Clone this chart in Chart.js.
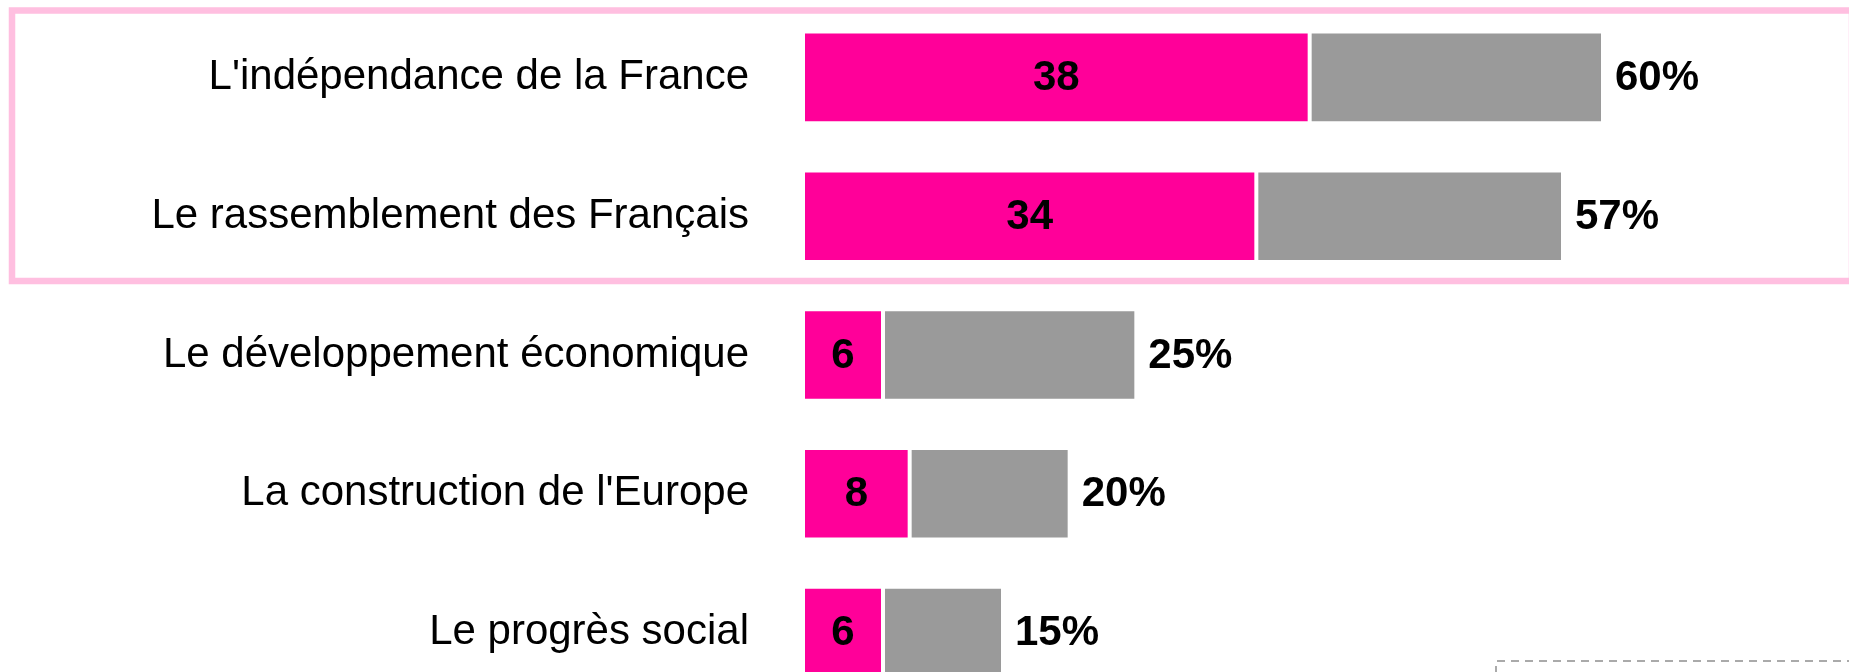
<!DOCTYPE html>
<html>
<head>
<meta charset="utf-8">
<script src="https://cdn.jsdelivr.net/npm/chart.js@4"></script>
<style>
  html, body { margin: 0; padding: 0; background: #fff; overflow: hidden; }
  #wrap { width: 1849px; height: 702px; position: relative; }
</style>
</head>
<body>
<div id="wrap"><canvas id="valuesChart"></canvas></div>
<script>
const categories = [
    "L'indépendance de la France",
    'Le rassemblement des Français',
    'Le développement économique',
    "La construction de l'Europe",
    'Le progrès social'
];
const firstMention = [38, 34, 6, 8, 6];
const totalMention = [60, 57, 25, 20, 15];
const restMention = totalMention.map((t, i) => t - firstMention[i]);

const PINK = '#FF0099';
const GREY = '#9A9A9A';
const FONT = '"Liberation Sans", Arial, sans-serif';

// labels inside the pink bars and the totals at the end of each row
const valueLabels = {
    id: 'valueLabels',
    afterDatasetsDraw(chart) {
        const ctx = chart.ctx;
        const pinkMeta = chart.getDatasetMeta(0);
        const greyMeta = chart.getDatasetMeta(1);
        ctx.save();
        ctx.fillStyle = '#000';
        ctx.font = 'bold 42px ' + FONT;
        ctx.textBaseline = 'middle';
        pinkMeta.data.forEach((bar, i) => {
            ctx.textAlign = 'center';
            ctx.fillText(String(firstMention[i]), (bar.x + bar.base) / 2, bar.y + 1);
        });
        greyMeta.data.forEach((bar, i) => {
            ctx.textAlign = 'left';
            ctx.fillText(totalMention[i] + '%', bar.x + 12, bar.y + 1);
        });
        ctx.restore();
    }
};

// pink frame round the first two rows and the dashed box at the bottom right
const frames = {
    id: 'frames',
    afterDraw(chart) {
        const ctx = chart.ctx;
        ctx.save();
        ctx.strokeStyle = '#FFBFE0';
        ctx.lineWidth = 6.5;
        ctx.strokeRect(12, 10.5, 1840, 270.5);

        ctx.strokeStyle = '#AAAAAA';
        ctx.lineWidth = 2;
        ctx.setLineDash([8, 6]);
        ctx.beginPath();
        ctx.moveTo(1496, 702);
        ctx.lineTo(1496, 661);
        ctx.lineTo(1860, 661);
        ctx.stroke();
        ctx.restore();
    }
};

const ctx = document.getElementById('valuesChart').getContext('2d');
new Chart(ctx, {
    type: 'bar',
    data: {
        labels: categories,
        datasets: [{
            label: 'En premier',
            data: firstMention,
            backgroundColor: PINK,
            borderColor: '#fff',
            borderWidth: 2,
            borderSkipped: false
        }, {
            label: 'Au total',
            data: restMention,
            backgroundColor: GREY,
            borderColor: '#fff',
            borderWidth: 2,
            borderSkipped: false
        }]
    },
    options: {
        indexAxis: 'y',
        responsive: true,
        maintainAspectRatio: false,
        animation: false,
        datasets: {
            bar: { categoryPercentage: 1, barPercentage: 0.66 }
        },
        layout: { padding: { top: 8, bottom: 0, left: 0, right: 46 } },
        plugins: {
            legend: { display: false },
            tooltip: { enabled: false }
        },
        scales: {
            x: {
                stacked: true,
                display: false,
                min: 0,
                max: 75
            },
            y: {
                stacked: true,
                grid: { display: false, drawTicks: false },
                border: { display: false },
                ticks: {
                    color: '#000',
                    padding: 54,
                    font: { family: FONT, size: 42 }
                },
                afterFit(scale) {
                    scale.width = 803;
                    scale.paddingTop = 0;
                    scale.paddingBottom = 0;
                }
            }
        }
    },
    plugins: [valueLabels, frames]
});
</script>
</body>
</html>
